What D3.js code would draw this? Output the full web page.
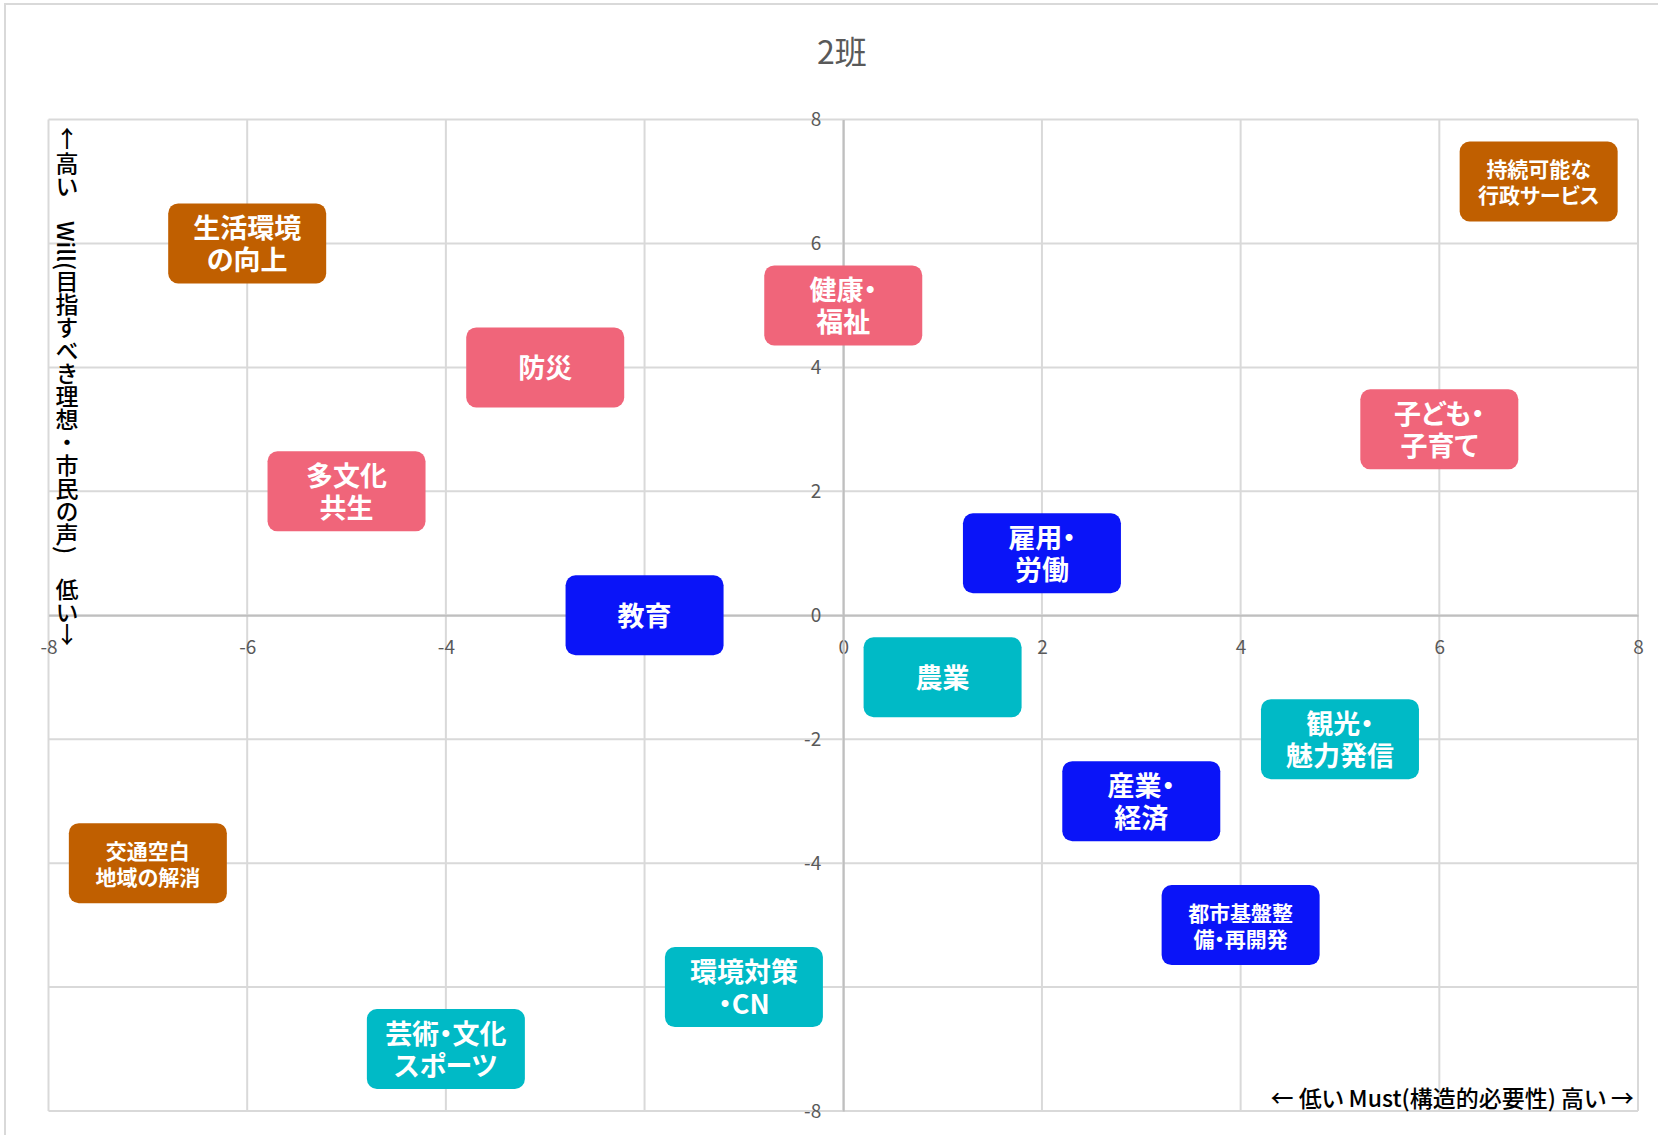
<!DOCTYPE html>
<html>
<head>
<meta charset="utf-8">
<script src="https://cdn.jsdelivr.net/npm/d3@7"></script>
<style>
  body { margin: 0; background: #fff; }
  text { font-family: "Noto Sans CJK JP", "Noto Sans", sans-serif; }
  .palt { font-feature-settings: "palt"; }
</style>
</head>
<body>
<div id="chart"></div>
<script>
// data
var labels = ["持続可能な\n行政サービス", "生活環境\nの向上", "健康・\n福祉", "防災", "子ども・\n子育て",
  "多文化\n共生", "雇用・\n労働", "教育", "農業", "観光・\n魅力発信", "産業・\n経済",
  "交通空白\n地域の解消", "都市基盤整\n備・再開発", "環境対策\n・CN", "芸術・文化\nスポーツ"];
var mustValues = [7, -6, 0, -3, 6, -5, 2, -2, 1, 5, 3, -7, 4, -1, -4];
var willValues = [7, 6, 5, 4, 3, 2, 1, 0, -1, -2, -3, -4, -5, -6, -7];
var groups = ["orange", "orange", "pink", "pink", "pink", "pink", "blue", "blue", "teal", "teal", "blue",
  "orange", "blue", "teal", "teal"];
var smallText = [true, false, false, false, false, false, false, false, false, false, false, true, true, false, false];
var tickValues = [-8, -6, -4, -2, 0, 2, 4, 6, 8];

var colors = { orange: "#c05f00", pink: "#f0657a", blue: "#0a14f8", teal: "#00bac6" };

var W = 1658, H = 1135;
var svg = d3.select("#chart").append("svg").attr("width", W).attr("height", H);

// outer chart border
svg.append("rect").attr("x", 5).attr("y", 4).attr("width", W + 10).attr("height", H + 10)
  .attr("fill", "#fff").attr("stroke", "#d9d9d9").attr("stroke-width", 2);

var x = d3.scaleLinear().domain([-8, 8]).range([48.5, 1638]);
var y = d3.scaleLinear().domain([-8, 8]).range([1111, 119.5]);

// title
svg.append("text").attr("x", 842).attr("y", 64).attr("text-anchor", "middle")
  .attr("font-size", 32).attr("fill", "#595959").text("2班");

// grid
var grid = svg.append("g").attr("stroke", "#d9d9d9").attr("stroke-width", 2);
grid.selectAll(".vx").data(tickValues).enter().append("line")
  .attr("x1", function(d) { return x(d); }).attr("x2", function(d) { return x(d); })
  .attr("y1", y(8)).attr("y2", y(-8));
grid.selectAll(".hy").data(tickValues).enter().append("line")
  .attr("y1", function(d) { return y(d); }).attr("y2", function(d) { return y(d); })
  .attr("x1", x(-8)).attr("x2", x(8));

// axes through zero
var fmt = function(d) { return String(d); };
var xAxis = svg.append("g").attr("transform", "translate(0," + y(0) + ")")
  .call(d3.axisBottom(x).tickValues(tickValues).tickFormat(fmt).tickSize(0).tickPadding(25));
var yAxis = svg.append("g").attr("transform", "translate(" + x(0) + ",0)")
  .call(d3.axisLeft(y).tickValues(tickValues).tickFormat(fmt).tickSize(0).tickPadding(22));
[xAxis, yAxis].forEach(function(a) {
  a.select(".domain").attr("stroke", "#bfbfbf").attr("stroke-width", 2);
  a.selectAll("text").attr("fill", "#595959").attr("font-size", 19)
    .style("font-family", "'Noto Sans CJK JP', sans-serif");
});

// axis titles
svg.append("text").attr("class", "palt").attr("x", 1634).attr("y", 1107).attr("text-anchor", "end")
  .attr("font-size", 23).attr("fill", "#000").attr("font-weight", 500)
  .text("← 低い Must(構造的必要性) 高い →");

var yTitle = svg.append("g").attr("fill", "#000").attr("font-size", 23).attr("font-weight", 500);
yTitle.append("text").attr("x", 67).attr("y", 147).attr("text-anchor", "middle").text("↑");
yTitle.append("text").attr("x", 67).attr("y", 152)
  .style("writing-mode", "vertical-rl")
  .attr("dominant-baseline", "central")
  .text("高い　Will(目指すべき理想・市民の声)　低い");
yTitle.append("text").attr("x", 67).attr("y", 643).attr("text-anchor", "middle").text("↓");

// labels
var boxW = 158, boxH = 80;
var items = labels.map(function(l, i) {
  return { label: l, mx: mustValues[i], wy: willValues[i], g: groups[i], small: smallText[i] };
});
var nodes = svg.append("g").selectAll("g").data(items).enter().append("g")
  .attr("transform", function(d) { return "translate(" + x(d.mx) + "," + y(d.wy) + ")"; });
nodes.append("rect").attr("x", -boxW / 2).attr("y", -boxH / 2)
  .attr("width", boxW).attr("height", boxH).attr("rx", 10)
  .attr("fill", function(d) { return colors[d.g]; });
nodes.each(function(d) {
  var lines = d.label.split("\n");
  var fs = d.small ? 21 : 27;
  var lh = d.small ? 26 : 32;
  var t = d3.select(this).append("text").attr("class", "palt").attr("text-anchor", "middle")
    .attr("fill", "#fff").attr("font-weight", "bold").attr("font-size", fs);
  lines.forEach(function(s, i) {
    t.append("tspan").attr("x", 0)
      .attr("y", (i - (lines.length - 1) / 2) * lh + 1)
      .attr("dy", "0.36em").text(s);
  });
});
</script>
</body>
</html>
